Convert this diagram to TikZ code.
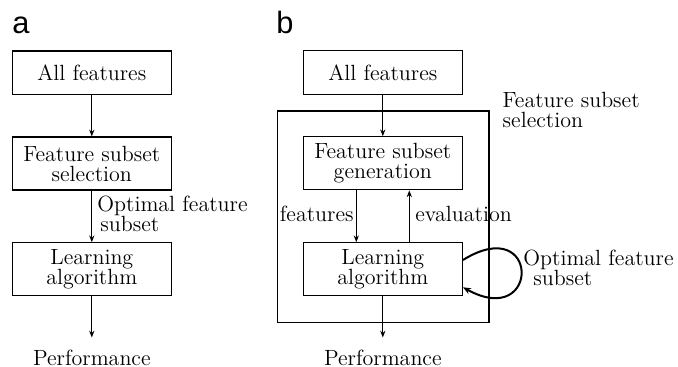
\documentclass[tikz,border=0pt]{standalone}
\usepackage{fontspec}
\newfontfamily\labelfont{Liberation Sans}
\usetikzlibrary{arrows.meta}
\begin{document}
\begin{tikzpicture}[x=0.5pt,y=-0.5pt,
  every node/.style={font=\fontsize{11}{10}\selectfont, inner sep=0pt},
  box/.style={draw, line width=0.55pt, align=center, minimum width=79.6pt, minimum height=26.5pt},
  topbox/.style={box, minimum height=21.7pt},
  frame/.style={draw, line width=0.55pt, minimum width=105.85pt, minimum height=105.65pt},
  arr/.style={line width=0.55pt, -{Stealth[length=3.4pt,width=2.6pt]}},
  looparr/.style={line width=1pt, -{Stealth[length=4pt,width=3.2pt]}},
  perf/.style={anchor=base, inner ysep=5.8pt},
  lbl/.style={align=left},
  panel/.style={font=\labelfont\fontsize{15.4}{16}\selectfont, anchor=base west}
]
\useasboundingbox (0,0) rectangle (678,367);

% ---------- panel a ----------
\node[panel] (la) at (12,34) {a};
\node[topbox] (A1) at (91.8,72.75) {All features};
\node[box] (A2) at (91.8,163.5) {Feature subset\\selection};
\node[box] (A3) at (91.8,269.3) {Learning\\algorithm};
\node[perf] (Ap) at (91.8,365) {Performance};
\node[lbl, anchor=north west] (Aopt) at (97,196) {Optimal feature\\\hspace{1.5pt}subset};
\draw[arr] (A1.south) -- (A2.north);
\draw[arr] (A2.south) -- (A3.north);
\draw[arr] (A3.south) -- (Ap.north);

% ---------- panel b ----------
\node[panel] (lb) at (276,34) {b};
\node[frame] (F) at (383.15,216.65) {};
\node[topbox] (B1) at (382.8,72.5) {All features};
\node[box] (B2) at (382.8,163.3) {Feature subset\\generation};
\node[box] (B3) at (382.8,269.3) {Learning\\algorithm};
\node[perf] (Bp) at (382.8,365) {Performance};
\node[lbl, anchor=north west] (Fsel) at (502.3,91.4) {Feature subset\\selection};
\node[anchor=base east] (feat) at (354,221.7) {features};
\node[anchor=base west] (eval) at (415,221.7) {evaluation};
\node[lbl, anchor=north west] (Bopt) at (523,249.5) {Optimal feature\\\hspace{5pt}subset};

\draw[arr] (B1.south) -- (B2.north);
\draw[arr] ([xshift=-13.25pt]B2.south) -- ([xshift=-13.25pt]B3.north);
\draw[arr] ([xshift=13.25pt]B3.north) -- ([xshift=13.25pt]B2.south);
\draw[arr] (B3.south) -- (Bp.north);
\draw[looparr] ([yshift=4.65pt]B3.east) .. controls (540.5,212) and (540.5,330) .. ([yshift=-9pt]B3.east);
\end{tikzpicture}
\end{document}
